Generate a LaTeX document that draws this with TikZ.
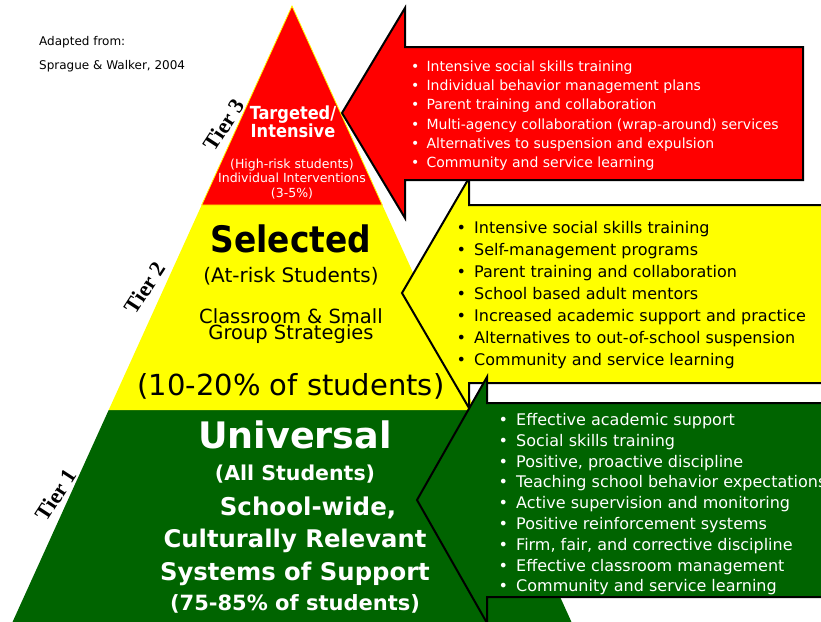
\documentclass[tikz,border=0pt]{standalone}
\usepackage{fontspec}
\setmainfont{DejaVu Sans}
\newfontfamily\condfont{DejaVu Sans Condensed}
\newfontfamily\tierfont{Liberation Serif}
\definecolor{tierred}{RGB}{255,0,0}
\definecolor{tieryellow}{RGB}{255,255,0}
\definecolor{tiergreen}{RGB}{0,100,0}
\newcommand\fs[2]{\fontsize{#1}{#2}\selectfont}
\newcommand\bul{\makebox[1.1em][l]{\textbullet}}

\begin{document}
\begin{tikzpicture}[x=1pt,y=-1pt,every node/.style={inner sep=0pt},
	arrowbox/.style={draw=black,line width=2pt,line join=miter},
	tierlabel/.style={font=\tierfont\bfseries\fs{22}{22},rotate=57}]
						\useasboundingbox (0,0) rectangle (821,621);
						\clip (0,0) rectangle (821,621);
						% pyramid
						\fill[tiergreen] (108.7,410)--(475.3,410)--(575.1,630)--(8.9,630)--cycle;
						\fill[tieryellow] (201.7,205)--(382.3,205)--(475.3,410)--(108.7,410)--cycle;
						\filldraw[fill=tierred,draw=tieryellow,line width=.8pt] (292,6)--(201.7,205)--(382.3,205)--cycle;
						% arrows
						\filldraw[arrowbox,fill=tieryellow] (402,293)--(469,178)--(469,205)--(840,205)--(840,383)--(469,383)--(469,408)--cycle;
						\filldraw[arrowbox,fill=tiergreen] (417,500)--(487,377)--(487,403)--(840,403)--(840,597)--(487,597)--(487,623)--cycle;
						\filldraw[arrowbox,fill=tierred] (342,113)--(405,8)--(405,47)--(803,47)--(803,180)--(405,180)--(405,218)--cycle;
						% source (base is the last line)
						\node (src) at (39,69) [anchor=base west,font=\fs{12}{24},align=left] {Adapted from:\\Sprague \& Walker, 2004};
						% tier labels
						\node (tier3) at (224,125) [tierlabel] {Tier 3};
						\node (tier2) at (145,288) [tierlabel] {Tier 2};
						\node (tier1) at (56,495) [tierlabel] {Tier 1};
						% tier 3 text
						\node (tgt) at (293,137.5) [anchor=base,white,font=\condfont\bfseries\fs{18}{18.5},align=center] {Targeted/\\Intensive};
						\node (tgtsub) at (292,197.4) [anchor=base,white,font=\fs{12.5}{14.7},align=center] {(High-risk students)\\Individual Interventions\\(3-5\%)};
						% tier 2 text
						\node (sel) at (291,252) [anchor=base,font=\condfont\bfseries\fs{36.5}{36}] {Selected};
						\node (selsub) at (291,282) [anchor=base,font=\fs{20}{20}] {(At-risk Students)};
						\node (selgrp) at (291,339.7) [anchor=base,font=\fs{19.5}{16.7},align=center] {Classroom \& Small\\Group Strategies};
						\node (selpct) at (291,395) [anchor=base,font=\fs{29}{29}] {(10-20\% of students)};
						% tier 1 text
						\node (uni) at (295,448) [anchor=base,white,font=\bfseries\fs{36.5}{36}] {Universal};
						\node (unisub) at (295,480) [anchor=base,white,font=\bfseries\fs{20.5}{20}] {(All Students)};
						\node (uniwide) at (308,515) [anchor=base,white,font=\bfseries\fs{24.5}{24}] {School-wide,};
						\node (unisys) at (295,580) [anchor=base,white,font=\bfseries\fs{24.3}{33},align=center] {Culturally Relevant\\Systems of Support};
						\node (unipct) at (295,610) [anchor=base,white,font=\bfseries\fs{21}{21}] {(75-85\% of students)};
						% lists (base is the last line)
						\node (redlist) at (411,167.5) [anchor=base west,white,font=\fs{14}{19.2},align=left] {\bul Intensive social skills training\\\bul Individual behavior management plans\\\bul Parent training and collaboration\\\bul Multi-agency collaboration (wrap-around) services\\\bul Alternatives to suspension and expulsion\\\bul Community and service learning};
						\node (yellowlist) at (456.4,365.6) [anchor=base west,font=\fs{16}{22},align=left] {\bul Intensive social skills training\\\bul Self-management programs\\\bul Parent training and collaboration\\\bul School based adult mentors\\\bul Increased academic support and practice\\\bul Alternatives to out-of-school suspension\\\bul Community and service learning};
						\node (greenlist) at (498.4,591.8) [anchor=base west,white,font=\fs{16}{20.8},align=left] {\bul Effective academic support\\\bul Social skills training\\\bul Positive, proactive discipline\\\bul Teaching school behavior expectations\\\bul Active supervision and monitoring\\\bul Positive reinforcement systems\\\bul Firm, fair, and corrective discipline\\\bul Effective classroom management\\\bul Community and service learning};
					\end{tikzpicture}
\end{document}
